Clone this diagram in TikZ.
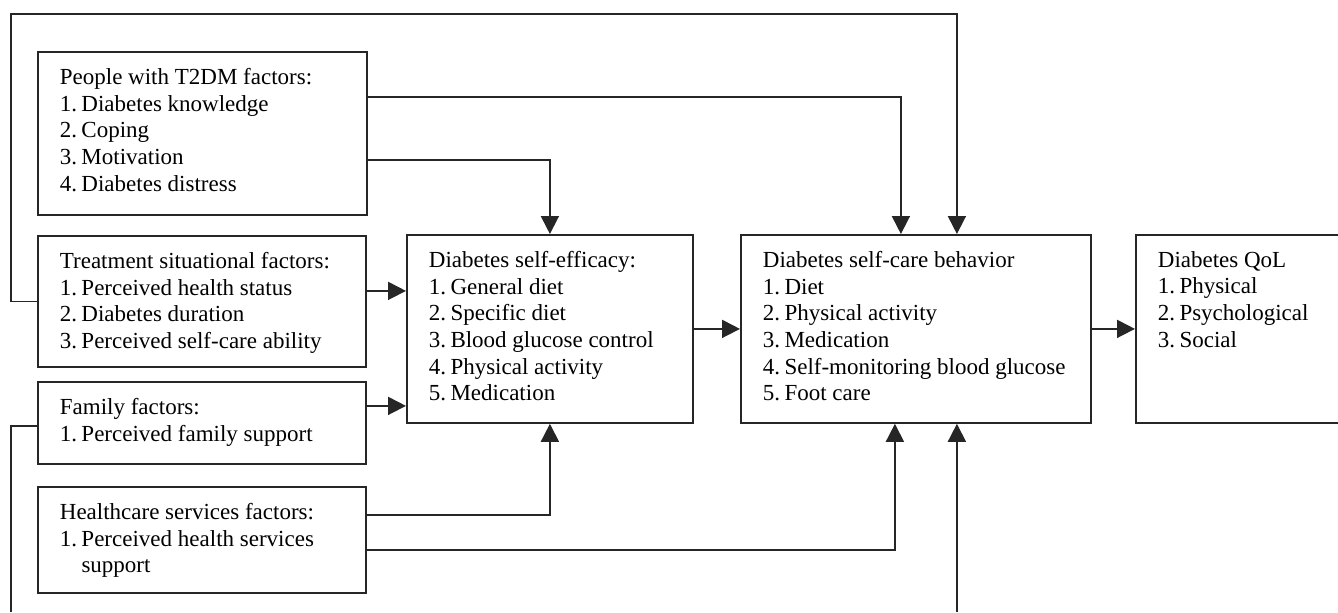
\documentclass[tikz,border=0pt]{standalone}
\usepackage{fontspec}
\setmainfont{Liberation Serif}
\usetikzlibrary{arrows.meta}
\newcommand{\bcontent}[3]{\hspace*{11pt}\parbox[c][#2][t]{#1}{\raggedright\vspace*{8.15pt}#3}}
\newcommand{\itm}[2]{\par\hangindent=10.8pt\hangafter=1\noindent\makebox[10.8pt][l]{#1.}#2}
\begin{document}
\begin{tikzpicture}[x=0.5pt,y=-0.5pt,
  fbox/.style={draw=black!85, line width=0.9pt, inner sep=0pt, anchor=north west, font=\fontsize{11.5}{13.35}\selectfont},
  conn/.style={draw=black!85, line width=0.9pt},
  arr/.style={conn, -{Triangle[length=9pt,width=9pt]}}]
\useasboundingbox (0,0) rectangle (1338,612);
\node[fbox] (A) at (37,51) {\bcontent{153.5pt}{81.5pt}{People with T2DM factors:\itm{1}{Diabetes knowledge}\itm{2}{Coping}\itm{3}{Motivation}\itm{4}{Diabetes distress}}};
\node[fbox] (B) at (37,235) {\bcontent{153pt}{65.5pt}{Treatment situational factors:\itm{1}{Perceived health status}\itm{2}{Diabetes duration}\itm{3}{Perceived self-care ability}}};
\node[fbox] (C) at (37,381) {\bcontent{153pt}{41pt}{Family factors:\itm{1}{Perceived family support}}};
\node[fbox] (D) at (37,486) {\bcontent{153pt}{53pt}{Healthcare services factors:\itm{1}{Perceived health services\hfil\break support}}};
\node[fbox] (E) at (406,234) {\bcontent{132pt}{94pt}{Diabetes self-efficacy:\itm{1}{General diet}\itm{2}{Specific diet}\itm{3}{Blood glucose control}\itm{4}{Physical activity}\itm{5}{Medication}}};
\node[fbox] (F) at (740,234) {\bcontent{164pt}{94pt}{Diabetes self-care behavior\itm{1}{Diet}\itm{2}{Physical activity}\itm{3}{Medication}\itm{4}{Self-monitoring blood glucose}\itm{5}{Foot care}}};
\node[fbox] (G) at (1135,234) {\bcontent{92pt}{94pt}{Diabetes QoL\itm{1}{Physical}\itm{2}{Psychological}\itm{3}{Social}}};
\coordinate (tl) at (11,14);
\coordinate (bl) at (11,612);
\draw[arr] (B.west) -| (tl) -| ([xshift=20.5pt]F.north);
\draw[arr] ([yshift=18.25pt]A.east) -| ([xshift=-7.5pt]F.north);
\draw[arr] ([yshift=-13.25pt]A.east) -| (E.north);
\draw[arr] ([yshift=5.25pt]B.east) coordinate (b1) -- (b1 -| E.west);
\draw[arr] ([yshift=8.5pt]C.east) coordinate (c1) -- (c1 -| E.west);
\draw[conn] ([yshift=-1.5pt]C.west) -| (bl);
\draw[arr] ([yshift=12.5pt]D.east) -| (E.south);
\draw[arr] ([yshift=-5pt]D.east) -| ([xshift=-10.5pt]F.south);
\draw[arr] ([xshift=20.5pt]F.south |- bl) -- ([xshift=20.5pt]F.south);
\draw[arr] (E.east) -- (E.east -| F.west);
\draw[arr] (F.east) -- (F.east -| G.west);
\end{tikzpicture}
\end{document}
